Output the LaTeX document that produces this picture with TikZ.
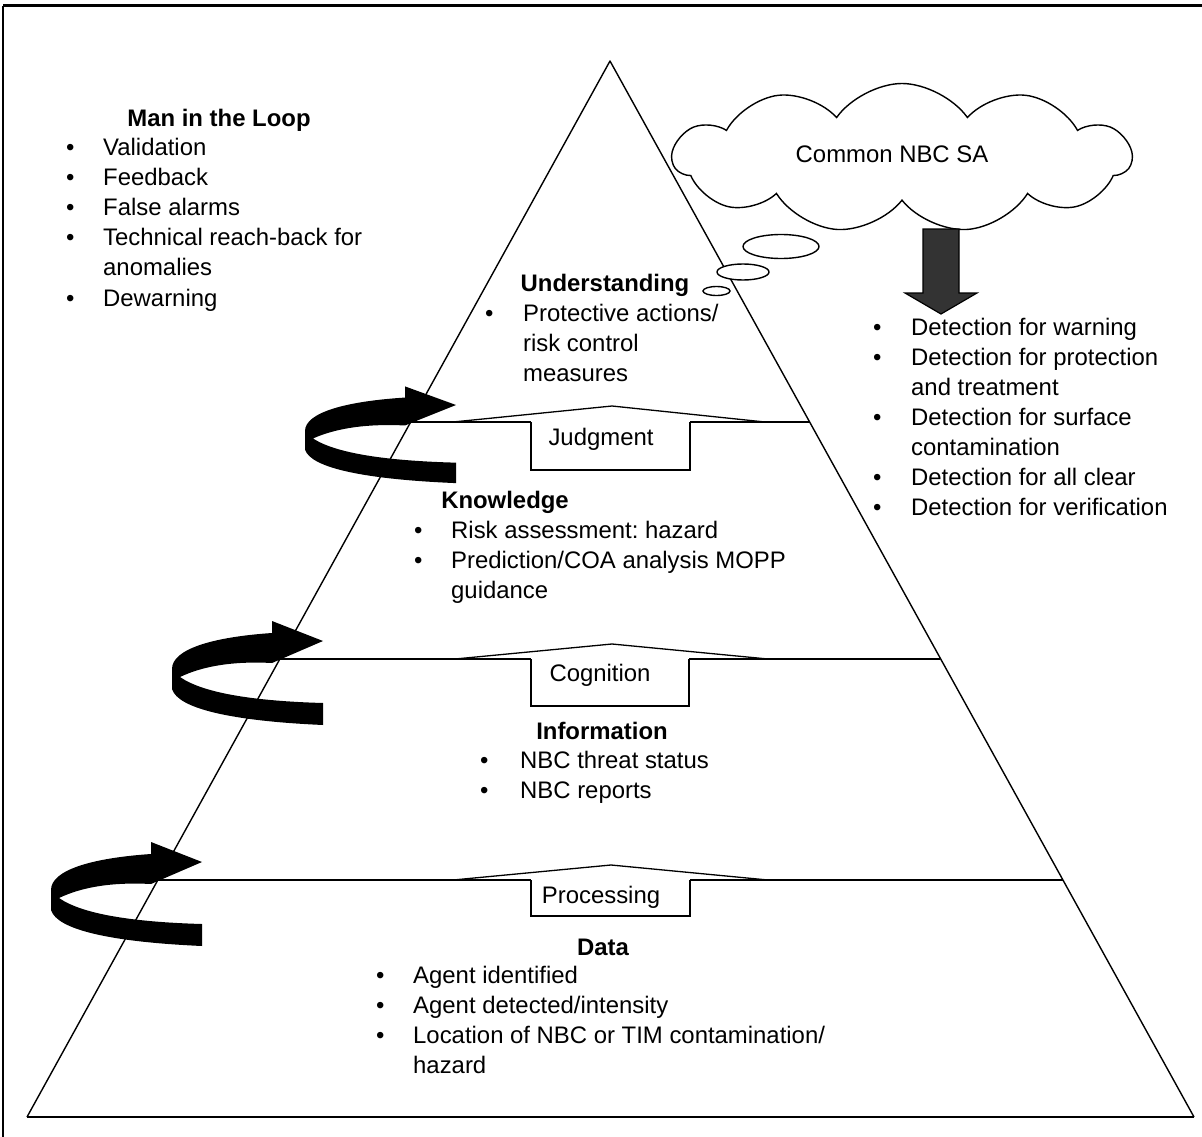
\documentclass[tikz,border=0pt]{standalone}
\usepackage{fontspec}
\setmainfont{Liberation Sans}
\usetikzlibrary{shapes.symbols,shapes.geometric}
\frenchspacing
\newcommand{\fsz}{\fontsize{23.9}{30}\selectfont}
\newcommand{\bulbox}[1]{\makebox[#1][l]{\textbullet}}
\tikzset{
  lbl/.style={font=\fsz, inner sep=0pt},
  ttl/.style={font=\fsz\bfseries, inner sep=0pt, anchor=base},
  lst/.style={font=\fsz, inner sep=0pt, anchor=base west},
  edge/.style={line width=1.4pt, line join=round},
  flr/.style={line width=1.3pt, line join=miter},
  bubble/.style={ellipse, draw, line width=1.4pt, inner sep=0pt, fill=white},
  curl/.pic={\fill[black] (0,0) -- (-51,-20) -- (-51,-8)
      .. controls (-110,-4) and (-151,8) .. (-151,28) -- (-151,48)
      .. controls (-145,68) and (-90,80) .. (0,84) -- (0,62)
      .. controls (-70,60) and (-120,52) .. (-143,36)
      .. controls (-120,25) and (-90,20) .. (-51,22) -- cycle;}
}
\begin{document}
\begin{tikzpicture}[x=1pt,y=-1pt]
\useasboundingbox (0,0) rectangle (1202,1137);
% frame
\draw[line width=3pt] (1202,6) -- (3,6);
\draw[line width=1.5pt] (3,6) -- (3,1137);

% pyramid
\coordinate (apex) at (610,61);
\coordinate (bl) at (27,1117);
\coordinate (br) at (1194,1117);
\draw[edge] (bl) -- (apex) -- (br);
\draw[line width=2.6pt] (bl) -- (br);

% floor: Judgment
\draw[flr] (410,422) -- (531,422);
\draw[flr] (690,422) -- (810,422);
\draw[flr] (453,422) -- (612,406) -- (765,422);
\draw[flr] (531,422) -- (531,470) -- (690,470) -- (690,422);
\node[lbl, anchor=base] (judg) at (601,445) {Judgment};

% floor: Cognition
\draw[flr] (280,659) -- (531,659);
\draw[flr] (689,659) -- (940,659);
\draw[flr] (455,659) -- (612,644) -- (768,659);
\draw[flr] (531,659) -- (531,706) -- (689,706) -- (689,659);
\node[lbl, anchor=base] (cogn) at (600,681) {Cognition};

% floor: Processing
\draw[flr] (158,880) -- (531,880);
\draw[flr] (690,880) -- (1063,880);
\draw[flr] (453,880) -- (611,865) -- (768,880);
\draw[flr] (531,880) -- (531,916) -- (690,916) -- (690,880);
\node[lbl, anchor=base] (proc) at (601,903) {Processing};

% curled arrows
\coordinate (tipJ) at (456,405);
\coordinate (tipC) at (323,641);
\coordinate (tipP) at (202,862);
\pic[yscale=0.93] (curlJ) at (tipJ) {curl};
\pic (curlC) at (tipC) {curl};
\pic (curlP) at (tipP) {curl};

% cloud and thought bubbles
\node[cloud, draw, line width=1.4pt, cloud puffs=11, cloud puff arc=110, aspect=3.1,
      minimum width=458pt, minimum height=149pt, inner sep=0pt] (cloud) at (902,158) {};
\node[lbl] (cloudtxt) at (892,154) {Common NBC SA};
\node[bubble, minimum width=76pt, minimum height=24pt] (b1) at (781,246.5) {};
\node[bubble, minimum width=52pt, minimum height=16pt] (b2) at (743,272) {};
\node[bubble, minimum width=27pt, minimum height=9pt] (b3) at (716.5,291) {};

% big down arrow
\draw[line width=1.2pt, fill=black!80, line join=miter] (923,229) -- (959,229) -- (959,293) -- (977,293)
  -- (941,314) -- (905,293) -- (923,293) -- cycle;

% Man in the Loop
\node[ttl] (milt) at (219,127) {Man in the Loop};
\node[lst] (mill) at (66,156) {\begin{tabular}[t]{@{}l@{}l@{}}
\bulbox{37pt}&Validation\\
\bulbox{37pt}&Feedback\\
\bulbox{37pt}&False alarms\\
\bulbox{37pt}&Technical reach-back for\\
&anomalies\\
\bulbox{37pt}&Dewarning
\end{tabular}};

% Right list
\node[lst] (detl) at (873,335) {\begin{tabular}[t]{@{}l@{}l@{}}
\bulbox{38pt}&Detection for warning\\
\bulbox{38pt}&Detection for protection\\
&and treatment\\
\bulbox{38pt}&Detection for surface\\
&contamination\\
\bulbox{38pt}&Detection for all clear\\
\bulbox{38pt}&Detection for verification
\end{tabular}};

% Understanding
\node[ttl] (undt) at (605,291) {Understanding};
\node[lst] (undl) at (485,321) {\begin{tabular}[t]{@{}l@{}l@{}}
\bulbox{38pt}&Protective actions/\\
&risk control\\
&measures
\end{tabular}};

% Knowledge
\node[ttl] (knot) at (505,508) {Knowledge};
\node[lst] (knol) at (414,538) {\begin{tabular}[t]{@{}l@{}l@{}}
\bulbox{37pt}&Risk assessment: hazard\\
\bulbox{37pt}&Prediction/COA analysis MOPP\\
&guidance
\end{tabular}};

% Information
\node[ttl] (inft) at (602,739) {Information};
\node[lst] (infl) at (480,768) {\begin{tabular}[t]{@{}l@{}l@{}}
\bulbox{40pt}&NBC threat status\\
\bulbox{40pt}&NBC reports
\end{tabular}};

% Data
\node[ttl] (datt) at (603,955) {Data};
\node[lst] (datl) at (376,983) {\begin{tabular}[t]{@{}l@{}l@{}}
\bulbox{37pt}&Agent identified\\
\bulbox{37pt}&Agent detected/intensity\\
\bulbox{37pt}&Location of NBC or TIM contamination/\\
&hazard
\end{tabular}};
\end{tikzpicture}
\end{document}
